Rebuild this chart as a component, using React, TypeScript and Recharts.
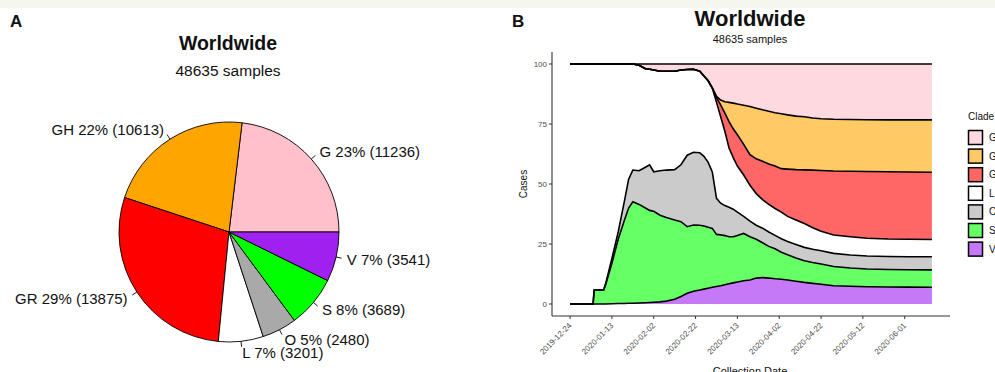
import React from 'react';
import { PieChart, Pie, Cell, AreaChart, Area, XAxis, YAxis } from 'recharts';

// ---- categories / colours ----
const clades = ['G', 'GH', 'GR', 'L', 'O', 'S', 'V'];
const cladeColors = ['#FFC0CB', '#FFA500', '#FF0000', '#FFFFFF', '#A9A9A9', '#00FF00', '#A020F0'];

// ---- panel A: pie counts ----
const pieCounts = [11236, 10613, 13875, 3201, 2480, 3689, 3541];

// ---- panel B: cumulative share (%) of each clade by collection day (day 0 = 2019-12-24) ----
const days = [0, 11, 11.5, 16, 17, 20, 23, 26, 28, 30, 33, 36, 38, 40, 43, 46, 50, 53, 56, 59, 62, 64, 66, 68, 70, 72, 74, 76, 78, 80, 83, 86, 89, 92, 95, 98, 101, 104, 108, 112, 116, 120, 126, 134, 142, 152, 162, 173];
const shareV = [0, 0, 0, 0, 0, 0.1, 0.2, 0.2, 0.3, 0.3, 0.4, 0.5, 0.6, 0.7, 0.9, 1.2, 2, 3.1, 4.5, 5.3, 5.8, 6.2, 6.6, 7, 7.3, 7.6, 8, 8.4, 8.8, 9.2, 9.7, 10, 10.8, 11, 10.8, 10.5, 10.3, 10, 9.5, 9, 8.6, 8.2, 7.6, 7.4, 7.2, 7.1, 7.05, 7];
const shareS = [0, 0, 5.8, 5.8, 8, 16.9, 26.8, 34.8, 39.7, 42.3, 41.1, 39.5, 38.4, 37.9, 36.1, 34.8, 33, 31.2, 27.7, 27.6, 27, 26.3, 25.4, 24.5, 21.7, 21.2, 20.5, 19.6, 19.2, 19.3, 19.7, 18, 16.2, 14.5, 13.2, 12.5, 11.3, 10.5, 9.7, 9, 8.7, 8.5, 8, 7.6, 7.4, 7.3, 7.25, 7.2];
const shareO = [0, 0, 0, 0, 0.5, 2, 3, 8, 12, 13.2, 14, 17, 19, 16.5, 18.5, 19.8, 21, 23.7, 29.8, 30.3, 30.2, 29, 27, 23.5, 15, 13.2, 12.5, 12.3, 11.5, 9.8, 7.1, 6.5, 5.8, 6.1, 6, 5.6, 5.6, 5.5, 5.6, 5.6, 5.5, 5.5, 5.5, 5.4, 5.4, 5.4, 5.4, 5.5];
const shareL = [100, 100, 94.2, 94.2, 91.5, 81, 70, 57, 48, 44.2, 44, 41, 39.8, 42.4, 41.5, 41.2, 41, 39.5, 35.7, 34.6, 34, 33.5, 34, 35, 40, 36, 31, 24.7, 21.5, 19.2, 17.25, 15, 13.2, 11.9, 11.5, 11.2, 11.1, 10.5, 10.2, 9.9, 9, 8.1, 7.65, 7.6, 7.4, 7.3, 7.3, 7.2];
const shareGR = [0, 0, 0, 0, 0, 0, 0, 0, 0, 0, 0, 0, 0, 0, 0, 0, 0, 0, 0, 0, 0, 0, 0, 0, 2, 5, 7.5, 11, 12, 13, 12.75, 12.7, 14.5, 16, 16.8, 17.7, 18.1, 19.7, 21, 22.4, 24, 25.3, 26.65, 27.3, 27.8, 28, 28, 28];
const shareGH = [0, 0, 0, 0, 0, 0, 0, 0, 0, 0, 0, 0, 0, 0, 0, 0, 0, 0, 0, 0, 0, 0, 0, 0, 0.5, 2, 4.8, 8, 10.7, 12.8, 16.3, 20.1, 21.1, 21.4, 22, 22.2, 22.9, 22.6, 22.3, 22.1, 21.7, 21.6, 21.6, 21.6, 21.6, 21.6, 21.7, 21.8];
const shareG = [0, 0, 0, 0, 0, 0, 0, 0, 0, 0, 0.5, 2, 2.2, 2.5, 3, 3, 3, 2.5, 2.3, 2.2, 3, 5, 7, 10, 13.5, 15, 15.7, 16, 16.3, 16.7, 17.2, 17.7, 18.4, 19.1, 19.7, 20.3, 20.7, 21.2, 21.7, 22, 22.5, 22.8, 23, 23.1, 23.2, 23.3, 23.3, 23.3];

// ---- axis ticks ----
const tickDays = [0, 20, 40, 60, 80, 100, 120, 140, 160];
const tickLabels = ['2019-12-24', '2020-01-13', '2020-02-02', '2020-02-22', '2020-03-13', '2020-04-02', '2020-04-22', '2020-05-12', '2020-06-01'];
const yTicks = [0, 25, 50, 75, 100];

const seriesByClade: Record<string, number[]> = {
  G: shareG, GH: shareGH, GR: shareGR, L: shareL, O: shareO, S: shareS, V: shareV,
};

const areaData = days.map((d, i) => {
  const row: Record<string, number> = { day: d };
  clades.forEach((c) => { row[c] = seriesByClade[c][i]; });
  return row;
});

const pieData = clades.map((c, i) => ({ name: c, value: pieCounts[i] }));
const totalSamples = pieCounts.reduce((a, b) => a + b, 0);

const FONT = "'Liberation Sans', Arial, Helvetica, sans-serif";
const RAD = Math.PI / 180;

const renderPieLabel = (props: any) => {
  const { cx, cy, midAngle, outerRadius, percent, name, value } = props;
  const r = outerRadius * 1.1;
  const c = Math.cos(-midAngle * RAD);
  const s = Math.sin(-midAngle * RAD);
  const x = cx + r * c;
  const y = cy + r * s;
  return (
    <text x={x} y={y} textAnchor={c >= 0 ? 'start' : 'end'} dominantBaseline="central"
      fontSize={15} fontFamily={FONT} fill="#111">
      {`${name} ${Math.round(percent * 100)}% (${value})`}
    </text>
  );
};

const renderLabelLine = (props: any) => {
  const { cx, cy, midAngle, outerRadius } = props;
  const c = Math.cos(-midAngle * RAD);
  const s = Math.sin(-midAngle * RAD);
  const x1 = cx + outerRadius * c, y1 = cy + outerRadius * s;
  const x2 = cx + outerRadius * 1.05 * c, y2 = cy + outerRadius * 1.05 * s;
  return <path d={`M${x1},${y1}L${x2},${y2}`} stroke="#000" strokeWidth={0.9} fill="none" />;
};

const DateTick = (props: any) => {
  const { x, y, payload } = props;
  const idx = tickDays.indexOf(payload.value);
  const label = idx >= 0 ? tickLabels[idx] : '';
  const ax = x + 2, ay = y + 5;
  return (
    <text x={ax} y={ay} transform={`rotate(-45 ${ax} ${ay})`} textAnchor="end"
      fontSize={8} fontFamily={FONT} fill="#4D4D4D">{label}</text>
  );
};

const stackOrder = [...clades].reverse(); // bottom -> top: V, S, O, L, GR, GH, G

export default function App() {
  return (
    <div style={{ position: 'relative', width: 995, height: 372, overflow: 'hidden', background: '#FFFFFF', fontFamily: FONT }}>
      <style>{'body{margin:0;}'}</style>
      <div style={{ position: 'absolute', left: 0, top: 0, width: 995, height: 8, background: '#F5F6EE' }} />

      <div style={{ position: 'absolute', left: 0, top: 0 }}>
        <PieChart width={470} height={372} margin={{ top: 0, right: 0, bottom: 0, left: 0 }}>
          <Pie data={pieData} dataKey="value" nameKey="name" cx={229} cy={232} outerRadius={110}
            startAngle={0} endAngle={360} label={renderPieLabel} labelLine={renderLabelLine}
            isAnimationActive={false}>
            {pieData.map((d, i) => (
              <Cell key={d.name} fill={cladeColors[i]} stroke="#000" strokeWidth={0.9} />
            ))}
          </Pie>
        </PieChart>
      </div>

      <div style={{ position: 'absolute', left: 500, top: 0 }}>
        <AreaChart width={495} height={372} data={areaData} margin={{ top: 52, right: 45, bottom: 10, left: 22 }}>
          <XAxis type="number" dataKey="day" domain={[-8.65, 181.65]} ticks={tickDays} interval={0}
            tick={<DateTick />} tickSize={3} tickMargin={2} height={46}
            axisLine={{ stroke: '#333', strokeWidth: 1.1 }} tickLine={{ stroke: '#333' }} />
          <YAxis type="number" domain={[-5, 105]} ticks={yTicks} interval={0} width={30}
            tickSize={3} tickMargin={2} tick={{ fontSize: 8, fill: '#4D4D4D', fontFamily: FONT }}
            axisLine={{ stroke: '#333', strokeWidth: 1.1 }} tickLine={{ stroke: '#333' }} />
          {stackOrder.map((c) => (
            <Area key={'fill-' + c} type="linear" dataKey={c} stackId="fill" stroke="none"
              fill={cladeColors[clades.indexOf(c)]} fillOpacity={0.6} isAnimationActive={false}
              dot={false} activeDot={false} />
          ))}
          {stackOrder.map((c) => (
            <Area key={'line-' + c} type="linear" dataKey={c} stackId="line" stroke="#000"
              strokeWidth={1.6} fill="none" isAnimationActive={false} dot={false} activeDot={false} />
          ))}
        </AreaChart>
      </div>

      <svg width={995} height={372} style={{ position: 'absolute', left: 0, top: 0, pointerEvents: 'none' }}>
        <text x={10} y={27} fontSize={17} fontWeight="bold" fontFamily={FONT} fill="#111">A</text>
        <text x={228} y={49.5} fontSize={19.5} fontWeight="bold" textAnchor="middle" fontFamily={FONT} fill="#111">Worldwide</text>
        <text x={228} y={76} fontSize={15.5} textAnchor="middle" fontFamily={FONT} fill="#111">{`${totalSamples} samples`}</text>

        <text x={512} y={27} fontSize={17} fontWeight="bold" fontFamily={FONT} fill="#111">B</text>
        <text x={750} y={26} fontSize={22} fontWeight="bold" textAnchor="middle" fontFamily={FONT} fill="#111">Worldwide</text>
        <text x={750} y={43} fontSize={11} textAnchor="middle" fontFamily={FONT} fill="#111">{`${totalSamples} samples`}</text>
        <text x={527} y={184} fontSize={10} textAnchor="middle" fontFamily={FONT} fill="#111"
          transform="rotate(-90 527 184)">Cases</text>
        <text x={750} y={375} fontSize={11} textAnchor="middle" fontFamily={FONT} fill="#111">Collection Date</text>

        <text x={968} y={120} fontSize={10} fontFamily={FONT} fill="#111">Clade</text>
        {clades.map((c, i) => (
          <g key={'leg-' + c}>
            <rect x={968.5} y={130.5 + i * 18.6} width={14} height={14} fill={cladeColors[i]} fillOpacity={0.6}
              stroke="#000" strokeWidth={1.5} />
            <text x={989} y={141 + i * 18.6} fontSize={10} fontFamily={FONT} fill="#111">{c}</text>
          </g>
        ))}
      </svg>
    </div>
  );
}
